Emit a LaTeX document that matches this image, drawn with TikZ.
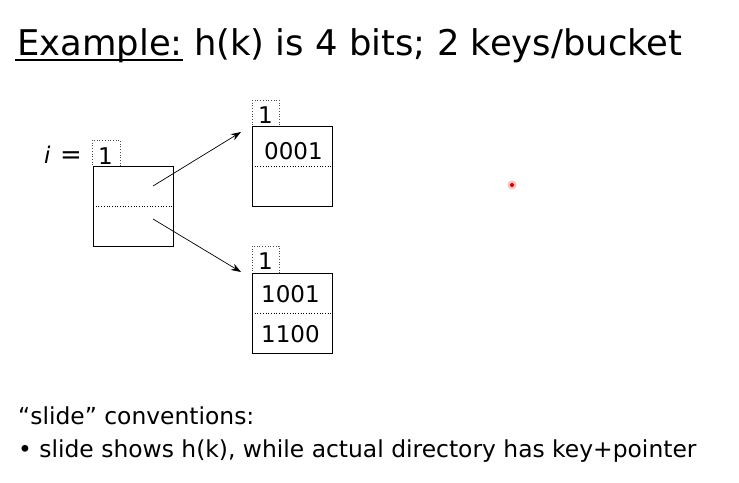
\documentclass[tikz,border=0pt]{standalone}
\usepackage{fontspec}
\setmainfont{DejaVu Sans}
\usetikzlibrary{arrows.meta,calc}
\begin{document}
\begin{tikzpicture}[x=1pt,y=-1pt,
  cell/.style={draw=black,line width=0.8pt},
  sep/.style={draw=black,dotted,line width=0.7pt},
  tag/.style={draw=black!70,dotted,line width=0.7pt},
  ptr/.style={draw=black,line width=0.7pt,-{Stealth[length=10pt,width=7pt]}},
  txt/.style={inner sep=0pt,anchor=base west},
  big/.style={txt,font=\fontsize{35.4}{40}\selectfont},
  mid/.style={txt,font=\fontsize{23.4}{28}\selectfont},
  val/.style={txt,font=\fontsize{23}{26}\selectfont}]
\path[use as bounding box,fill=white] (0,0) rectangle (739,482);

% heading, first word underlined
\node[big] (ex) at (17,55) {Example:};
\node[big] (title) at ($(ex.base east)+(11,0)$) {h(k) is 4 bits; 2 keys/bucket};
\draw[line width=2pt] ($(ex.base west)+(-2,5)$) -- ($(ex.base east)+(0,5)$);

% directory with global depth
\node[val] (ivar) at (44,163) {\textit{i}};
\node[txt,font=\fontsize{26}{28}\selectfont] (eq) at (60,163) {=};
\draw[tag] (92,140) rectangle (120,166);
\node[val] (gd) at (98,164) {1};
\draw[cell] (93,166) rectangle (173,246);
\draw[sep] (93,206) -- (173,206);
\coordinate (d0) at (153,186);
\coordinate (d1) at (153,219);

% bucket for keys starting with 0
\draw[tag] (252,100) rectangle (279,126);
\node[val] (ld0) at (258,123) {1};
\draw[cell] (252,126) rectangle (332,206);
\draw[sep] (252,166) -- (332,166);
\node[val] (k0) at (264,159) {0001};
\coordinate (b0) at (241,132);

% bucket for keys starting with 1
\draw[tag] (252,246) rectangle (279,273);
\node[val] (ld1) at (258,269) {1};
\draw[cell] (252,273) rectangle (332,353);
\draw[sep] (252,313) -- (332,313);
\node[val] (k1) at (261,302) {1001};
\node[val] (k2) at (261,342) {1100};
\coordinate (b1) at (241,272);

% directory pointers
\draw[ptr] (d0) -- (b0);
\draw[ptr] (d1) -- (b1);

% pointer dot
\fill[red!25] (512,185) circle (4.5pt);
\fill[red!80!black] (512,185) circle (2pt);

% notes
\node[mid] (n1) at (18,424) {“slide” conventions:};
\node[mid] (n2) at (18,457) {• slide shows h(k), while actual directory has key+pointer};
\end{tikzpicture}
\end{document}
